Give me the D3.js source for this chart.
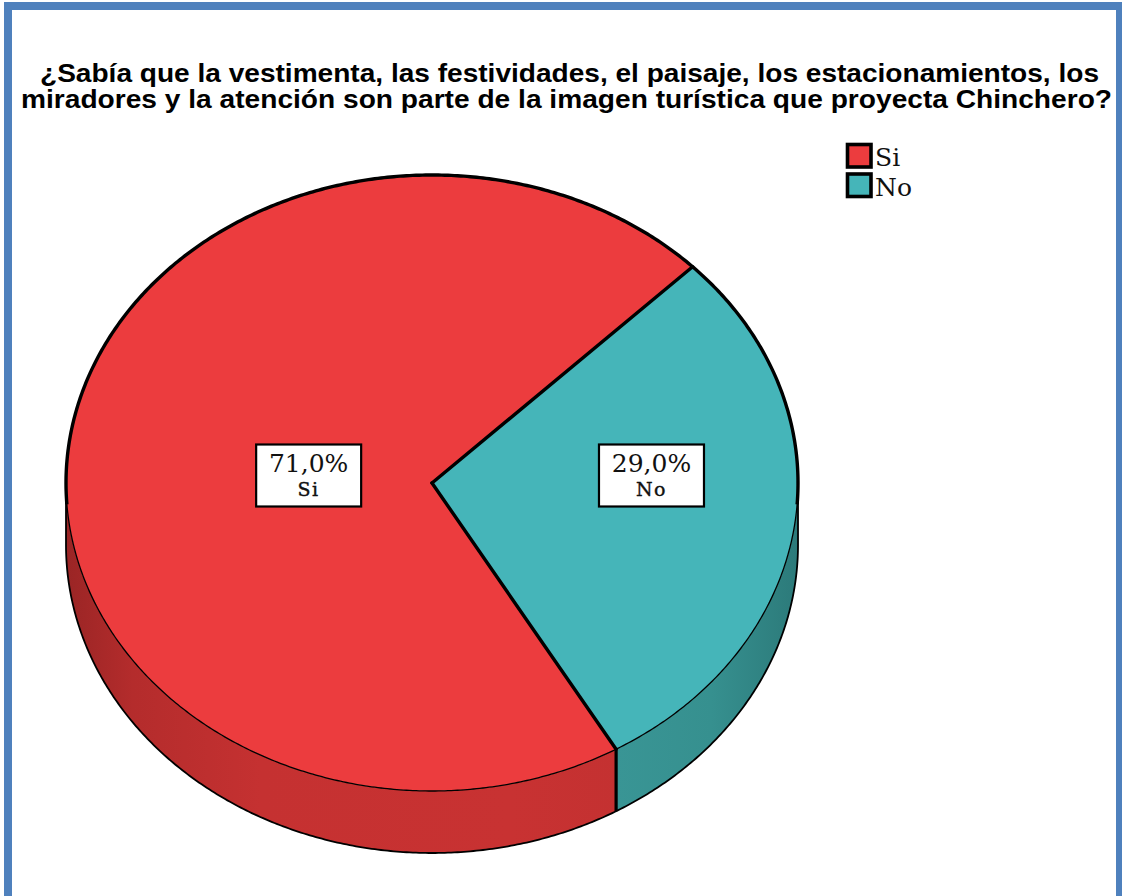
<!DOCTYPE html>
<html>
<head>
<meta charset="utf-8">
<script src="https://cdn.jsdelivr.net/npm/d3@7/dist/d3.min.js"></script>
<style>
  html, body { margin: 0; padding: 0; background: #fff; }
  svg { display: block; }
</style>
</head>
<body>
<svg id="chart" width="1122" height="896"></svg>
<script>
// Data
const categories = ["Si", "No"];
const percents = [71.0, 29.0];
const colorsTop = ["#ec3c3e", "#45b5b9"];
const titleLines = [
  "¿Sabía que la vestimenta, las festividades, el paisaje, los estacionamientos, los",
  "miradores y la atención son parte de la imagen turística que proyecta Chinchero?"
];

const svg = d3.select("#chart");
const W = 1122, H = 896;

// frame
svg.append("rect").attr("width", W).attr("height", H).attr("fill", "#fff");
svg.append("rect")
  .attr("x", 8).attr("y", 6).attr("width", 1112).attr("height", 900)
  .attr("fill", "none").attr("stroke", "#4f81bd").attr("stroke-width", 8);

// title (condensed bold sans)
const titleX = [40, 21], titleW = [1059, 1091], titleY = [82, 108];
svg.selectAll("text.title")
  .data(titleLines)
  .join("text")
  .attr("class", "title")
  .attr("x", (d, i) => titleX[i])
  .attr("y", (d, i) => titleY[i])
  .attr("textLength", (d, i) => titleW[i])
  .attr("lengthAdjust", "spacingAndGlyphs")
  .style("font-family", "'Liberation Sans Narrow', 'Liberation Sans', Arial, sans-serif")
  .style("font-weight", "bold")
  .style("font-size", "25.5px")
  .attr("fill", "#000")
  .text(d => d);

// pie geometry (elliptical, tilted)
const cx = 432, cy = 483, rx = 366, ry = 308, depth = 62;
const startParam = 59.8; // degrees, screen param clockwise from +x

const total = d3.sum(percents);
const angle = d3.scaleLinear().domain([0, total]).range([startParam, startParam + 360]);
const cum = d3.cumsum(percents);
const slices = categories.map((c, i) => ({
  name: c,
  value: percents[i],
  a0: angle(i === 0 ? 0 : cum[i - 1]),
  a1: angle(cum[i]),
  color: colorsTop[i]
}));

const rad = d => d * Math.PI / 180;
const pt = (a, dy = 0) => [cx + rx * Math.cos(rad(a)), cy + ry * Math.sin(rad(a)) + dy];

function arcPoints(a0, a1, dy = 0) {
  const n = Math.max(2, Math.ceil(Math.abs(a1 - a0) * 2));
  return d3.range(n + 1).map(k => pt(a0 + (a1 - a0) * k / n, dy));
}

const line = d3.line();

// gradients for the sides
const defs = svg.append("defs");
const sideStops = [
  [["0", "#9a2525"], ["0.12", "#b42c2c"], ["0.35", "#c53131"], ["0.8", "#c83232"], ["1", "#c43131"]],
  [["0", "#3a9797"], ["0.6", "#36908f"], ["1", "#2c7a7a"]]
];
slices.forEach((s, i) => {
  const g = defs.append("linearGradient")
    .attr("id", "side" + i)
    .attr("gradientUnits", "userSpaceOnUse")
    .attr("x1", i === 0 ? cx - rx : cx + 150).attr("x2", i === 0 ? cx + 190 : cx + rx)
    .attr("y1", 0).attr("y2", 0);
  sideStops[i].forEach(st => g.append("stop").attr("offset", st[0]).attr("stop-color", st[1]));
});

// visible side parts: parametric angles within [0,180]
function visibleRanges(a0, a1) {
  const out = [];
  for (let base = -360; base <= 720; base += 360) {
    const lo = Math.max(a0, base), hi = Math.min(a1, base + 180);
    if (hi > lo) out.push([lo, hi]);
  }
  return out;
}

const sideG = svg.append("g");
slices.forEach((s, i) => {
  visibleRanges(s.a0, s.a1).forEach(([lo, hi]) => {
    const top = arcPoints(lo, hi);
    const bot = arcPoints(hi, lo, depth);
    sideG.append("path")
      .attr("d", line(top.concat(bot)) + "Z")
      .attr("fill", `url(#side${i})`)
      .attr("stroke", "none");
  });
});

// bottom outline of side
sideG.append("path")
  .attr("d", line(arcPoints(0, 180, depth)))
  .attr("fill", "none").attr("stroke", "#000").attr("stroke-width", 1.8);
// side vertical edges at visible slice boundaries
slices.forEach(s => {
  const a = ((s.a0 % 360) + 360) % 360;
  if (a > 0 && a < 180) {
    const p = pt(a);
    sideG.append("line")
      .attr("x1", p[0]).attr("y1", p[1]).attr("x2", p[0]).attr("y2", p[1] + depth)
      .attr("stroke", "#000").attr("stroke-width", 3.2);
  }
});
[0, 180].forEach(a => {
  const p = pt(a);
  sideG.append("line")
    .attr("x1", p[0]).attr("y1", p[1]).attr("x2", p[0]).attr("y2", p[1] + depth)
    .attr("stroke", "#000").attr("stroke-width", 1.8);
});

// top faces
const topG = svg.append("g");
slices.forEach(s => {
  const pts = [[cx, cy]].concat(arcPoints(s.a0, s.a1));
  topG.append("path")
    .attr("d", line(pts) + "Z")
    .attr("fill", s.color)
    .attr("stroke", "none");
});
// rim line between top face and side
topG.append("path")
  .attr("d", line(arcPoints(0, 180)))
  .attr("fill", "none").attr("stroke", "#000").attr("stroke-width", 1.3);
// outer outline of top face
topG.append("path")
  .attr("d", line(arcPoints(176, 364)))
  .attr("fill", "none").attr("stroke", "#000").attr("stroke-width", 3.4);
// slice separators
slices.forEach(s => {
  const p = pt(s.a0);
  topG.append("line")
    .attr("x1", cx).attr("y1", cy).attr("x2", p[0]).attr("y2", p[1])
    .attr("stroke", "#000").attr("stroke-width", 3.4).attr("stroke-linecap", "round");
});

// value labels
const labelFrac = [0.34, 0.605];
const fmt = v => d3.format(".1f")(v).replace(".", ",") + "%";
const labG = svg.append("g");
slices.forEach((s, i) => {
  const mid = (s.a0 + s.a1) / 2;
  const lx = cx + rx * labelFrac[i] * Math.cos(rad(mid));
  const ly = cy - 8;
  const bw = 105, bh = 62;
  labG.append("rect")
    .attr("x", lx - bw / 2).attr("y", ly - bh / 2 + 0.5)
    .attr("width", bw).attr("height", bh)
    .attr("fill", "#fff").attr("stroke", "#000").attr("stroke-width", 2.2);
  labG.append("text")
    .attr("x", lx).attr("y", ly - 3)
    .attr("text-anchor", "middle")
    .style("font-family", "'DejaVu Serif', serif")
    .style("font-size", "25px")
    .attr("fill", "#111")
    .text(fmt(s.value));
  labG.append("text")
    .attr("x", lx).attr("y", ly + 21)
    .attr("text-anchor", "middle")
    .style("font-family", "'DejaVu Serif', serif")
    .style("font-size", "19px")
    .style("letter-spacing", "1.5px")
    .attr("fill", "#111")
    .attr("stroke", "#111").attr("stroke-width", 0.4)
    .text(s.name);
});

// legend
const leg = svg.append("g").attr("transform", "translate(846,144)");
const legItems = leg.selectAll("g").data(slices).join("g")
  .attr("transform", (d, i) => `translate(0,${i * 29.5})`);
legItems.append("rect")
  .attr("x", 1.5).attr("y", 0.5).attr("width", 23.5).attr("height", 22.5)
  .attr("fill", d => d.color).attr("stroke", "#000").attr("stroke-width", 3.6);
legItems.append("text")
  .attr("x", 29).attr("y", 22)
  .style("font-family", "'DejaVu Serif', serif")
  .style("font-size", "25px")
  .attr("fill", "#111")
  .text(d => d.name);
</script>
</body>
</html>
